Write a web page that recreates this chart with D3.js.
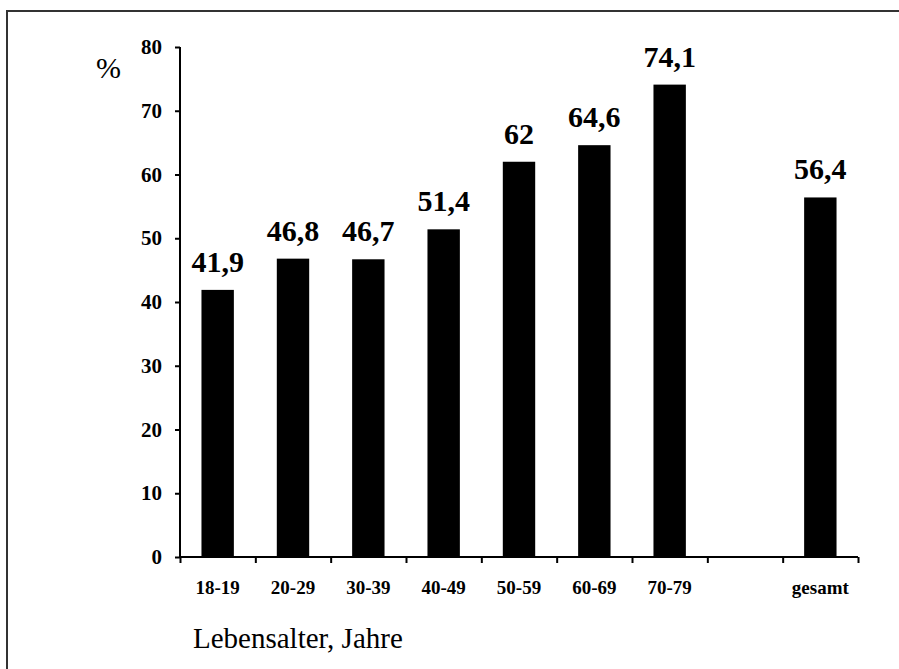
<!DOCTYPE html>
<html>
<head>
<meta charset="utf-8">
<script src="https://cdn.jsdelivr.net/npm/d3@7"></script>
<style>
  body { margin: 0; background: #fff; }
  svg { display: block; }
</style>
</head>
<body>
<svg id="chart" width="899" height="669"></svg>
<script>
// age groups, the blank slot keeps the gap before "gesamt"
const categories = ['18-19', '20-29', '30-39', '40-49', '50-59', '60-69', '70-79', '', 'gesamt']
const values = [41.9, 46.8, 46.7, 51.4, 62, 64.6, 74.1, null, 56.4]
const valueLabels = ['41,9', '46,8', '46,7', '51,4', '62', '64,6', '74,1', '', '56,4']
const yTicks = [0, 10, 20, 30, 40, 50, 60, 70, 80]

const serif = '"Liberation Serif", "Times New Roman", serif'

const svg = d3.select('#chart')

// frame (only top and left edges show in the scan)
svg.append('path')
  .attr('d', 'M7,669 L7,11 L899,11')
  .attr('fill', 'none')
  .attr('stroke', '#333')
  .attr('stroke-width', 2)

const plotLeft = 180, plotRight = 858, plotTop = 47, plotBottom = 557

const x = d3.scaleBand()
  .domain(d3.range(categories.length))
  .range([plotLeft, plotRight])
  .paddingInner(0.57)
  .paddingOuter(0.285)

// tick positions at band boundaries
const xEdge = d3.scaleLinear().domain([0, categories.length]).range([plotLeft, plotRight])

const y = d3.scaleLinear().domain([0, 80]).range([plotBottom, plotTop])

const barData = values.map((v, i) => ({v, i})).filter(d => d.v != null)

// bars
svg.append('g')
  .selectAll('rect')
  .data(barData)
  .join('rect')
    .attr('x', d => x(d.i))
    .attr('width', x.bandwidth())
    .attr('y', d => y(d.v))
    .attr('height', d => y(0) - y(d.v))
    .attr('fill', '#000')

// value labels
svg.append('g')
  .attr('text-anchor', 'middle')
  .style('font', `bold 30px ${serif}`)
  .selectAll('text')
  .data(barData)
  .join('text')
    .attr('x', d => x(d.i) + x.bandwidth() / 2)
    .attr('y', d => y(d.v) - 18)
    .text(d => valueLabels[d.i])

// y axis
const yAxis = svg.append('g')
  .attr('transform', `translate(${plotLeft},0)`)
  .call(d3.axisLeft(y).tickValues(yTicks).tickSize(5).tickPadding(13))
yAxis.select('.domain').attr('stroke', '#000').attr('stroke-width', 2).attr('d', `M0,${plotTop}V${plotBottom}`)
yAxis.selectAll('line').attr('stroke-width', 2)
yAxis.selectAll('text')
  .style('font', `bold 21px ${serif}`)
  .attr('fill', '#000')

// x axis
const xAxis = svg.append('g')
  .attr('transform', `translate(0,${plotBottom})`)
  .call(d3.axisBottom(xEdge).tickValues(d3.range(categories.length + 1)).tickSize(6).tickFormat(''))
xAxis.select('.domain').attr('stroke-width', 2).attr('d', `M${plotLeft},0H${plotRight}`)
xAxis.selectAll('line').attr('stroke-width', 2)

svg.append('g')
  .attr('text-anchor', 'middle')
  .style('font', `bold 19px ${serif}`)
  .selectAll('text')
  .data(categories)
  .join('text')
    .attr('x', (d, i) => x(i) + x.bandwidth() / 2)
    .attr('y', plotBottom + 37)
    .text(d => d)

// unit and axis title
svg.append('text')
  .attr('x', 96)
  .attr('y', 78)
  .style('font', `30px ${serif}`)
  .text('%')

svg.append('text')
  .attr('x', 193)
  .attr('y', 648)
  .style('font', `29px ${serif}`)
  .text('Lebensalter, Jahre')
</script>
</body>
</html>
